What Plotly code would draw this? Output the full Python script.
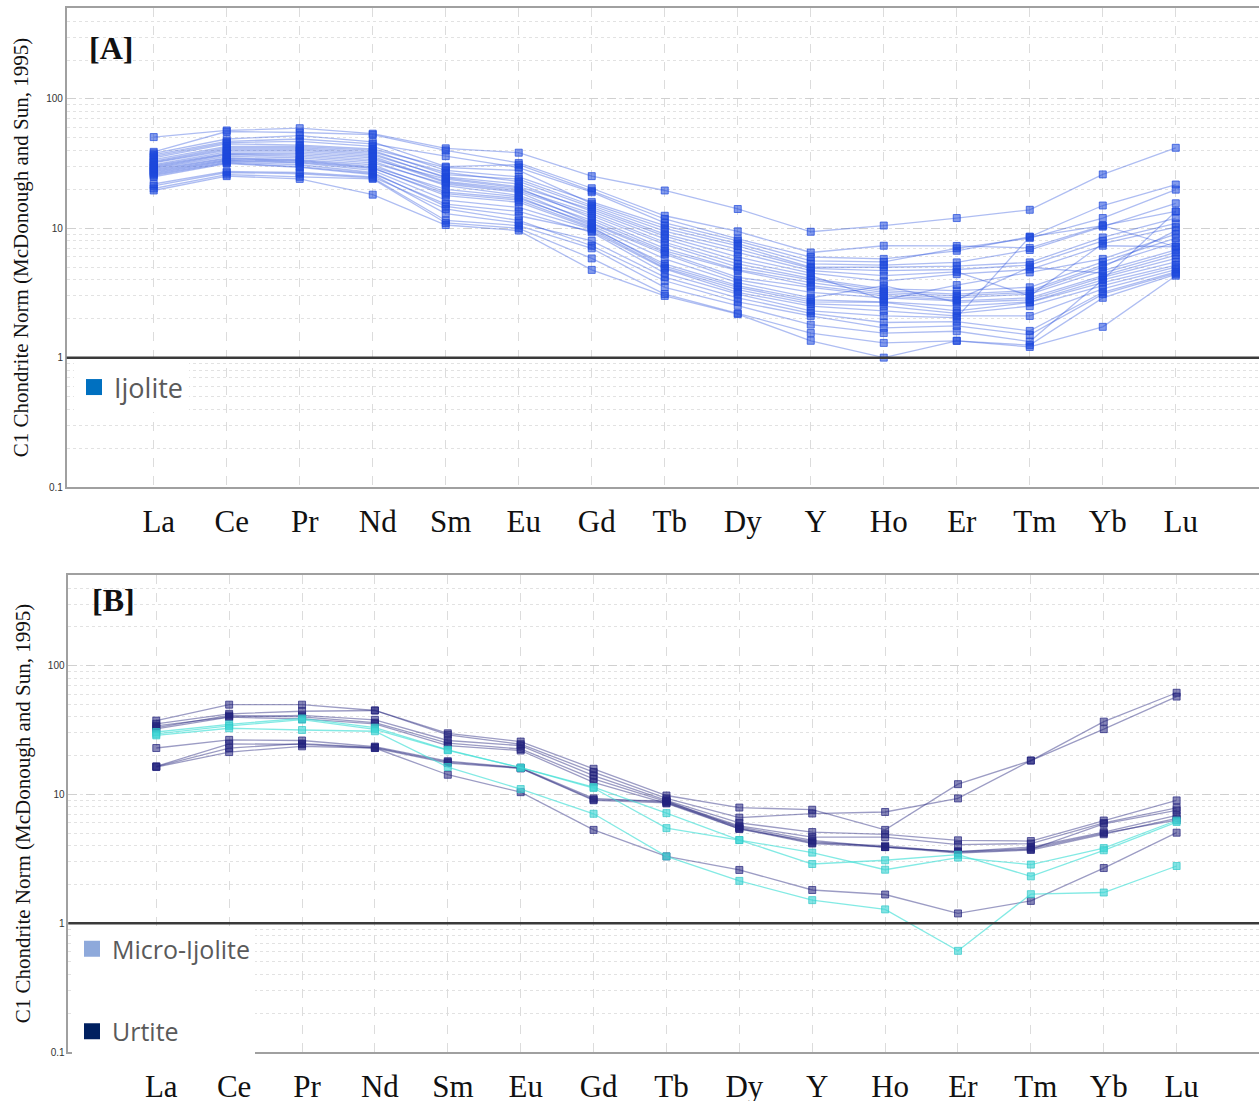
import plotly.graph_objects as go

elements = ["La", "Ce", "Pr", "Nd", "Sm", "Eu", "Gd", "Tb", "Dy", "Y", "Ho", "Er", "Tm", "Yb", "Lu"]

# Panel A - Ijolite samples (chondrite normalised), one row per sample
ijolite = [
    [50.7, 57.1, 59.4, 53.9, 41.5, 38.4, 25.3, 19.6, 14.1, 9.4, 10.5, 12.0, 13.9, 26.1, 41.9],
    [39, 56, 55, 53, 40, 32, 20.4, 12.5, 9.47, 6.5, 7.33, 7.3, 7.05, 10.5, 13.5],
    [38, 49, 52, 46.5, 30, 31, 19.5, 11.8, 8.3, 6.0, 5.8, 6.7, 8.6, 15.0, 21.8],
    [37, 47, 49, 45, 36.1, 29.5, 19, 11, 8.0, 5.6, 5.5, 7.0, 8.4, 12.0, 19.9],
    [36, 46, 47, 43, 28, 25, 16, 10.5, 7.6, 5.3, 5.2, 5.45, 6.8, 10.3, 15.6],
    [35, 45, 44, 41, 29.5, 28, 15.5, 10, 7.3, 5.0, 5.0, 5.1, 5.45, 8.5, 12.0],
    [34, 43, 43, 40, 26, 24, 15, 9.5, 6.9, 4.9, 4.7, 4.8, 5.2, 8.0, 10.9],
    [33, 42, 42, 39, 27, 23, 14.5, 9, 6.5, 4.7, 4.3, 4.6, 3.0, 7.6, 10.2],
    [32.5, 41, 41, 38, 24.5, 21, 14, 8.7, 6.0, 4.5, 3.9, 4.42, 4.8, 7.33, 7.2],
    [32, 40, 40, 37, 25, 22, 13.5, 8.3, 5.6, 4.3, 2.8, 3.64, 4.56, 5.8, 9.0],
    [31, 39, 39, 36, 23, 20, 13, 7.8, 5.3, 4.1, 3.4, 3.3, 3.5, 5.5, 8.4],
    [30.5, 38, 38, 35, 22.5, 19.5, 12.5, 7.5, 5.0, 4.0, 3.3, 3.1, 3.3, 5.2, 7.8],
    [30, 37.5, 37, 34, 24, 20.5, 12, 7, 4.8, 3.8, 3.2, 3.0, 3.2, 5.0, 9.6],
    [29.5, 37, 36, 33, 21.4, 18, 11.5, 6.7, 4.7, 3.6, 3.1, 2.9, 3.1, 4.7, 6.8],
    [29, 36, 35, 32, 22, 19, 11, 6.5, 4.17, 3.5, 3.0, 2.8, 5.0, 4.5, 6.5],
    [28.5, 35, 34, 31, 19, 17, 10.8, 6.3, 4.0, 3.2, 2.9, 2.75, 2.9, 4.3, 6.2],
    [28, 34.5, 33.5, 30, 20, 17.5, 10.5, 5.8, 3.8, 2.9, 3.6, 2.67, 2.8, 4.17, 5.85],
    [27.5, 34, 33, 29.5, 17.9, 15.9, 10, 5.3, 3.6, 2.8, 2.7, 2.5, 2.7, 4.0, 5.5],
    [27, 33.5, 32.5, 29, 18.5, 16.5, 10.2, 5.1, 3.5, 2.7, 2.67, 2.3, 2.67, 3.8, 5.2],
    [26.5, 33, 32, 28, 16.5, 14.5, 9.8, 4.95, 3.35, 2.6, 2.5, 2.2, 2.5, 3.6, 5.0],
    [26, 32.5, 31, 27, 14.8, 12.5, 9.5, 4.85, 3.2, 2.5, 2.3, 2.1, 2.1, 3.4, 4.8],
    [25.5, 32, 30, 26.5, 15.4, 13.5, 9.3, 4.5, 3.1, 2.3, 2.1, 2.04, 8.6, 10.5, 7.2],
    [25, 31.6, 29.6, 26, 13, 11, 8, 4.2, 2.9, 2.2, 1.87, 1.9, 1.61, 3.2, 4.6],
    [22, 27.5, 27, 25, 14.1, 11.5, 7.33, 3.93, 2.7, 2.1, 1.7, 1.76, 1.5, 3.1, 4.5],
    [21.3, 27, 26.4, 24.5, 11.5, 10.5, 7.0, 3.5, 2.52, 1.8, 1.55, 1.6, 1.33, 4.0, 13.5],
    [20.3, 26, 25, 24.1, 11, 10, 5.85, 3.1, 2.2, 1.55, 1.3, 1.35, 1.25, 2.9, 4.4],
    [19.6, 25.3, 24.1, 18.2, 10.6, 9.6, 4.77, 3.0, 2.17, 1.35, 1.0, 1.35, 1.21, 1.73, 4.3],
]

# Panel B - Micro-Ijolite samples
micro_ijolite = [
    [30.5, 35, 38.9, 33, 22.2, 16.1, 11.4, 7.15, 4.42, 3.53, 2.6, 3.23, 2.85, 3.83, 6.27],
    [29.5, 34, 38, 32, 22.0, 16.1, 11.2, 5.47, 4.42, 2.88, 3.08, 3.4, 2.31, 3.68, 6.1],
    [28.7, 32.6, 31.6, 30.9, 16.3, 11.0, 7.07, 3.3, 2.13, 1.51, 1.28, 0.61, 1.68, 1.73, 2.78],
]

# Panel B - Urtite samples
urtite = [
    [37.4, 49.7, 49.7, 44.8, 29.8, 25.7, 15.8, 9.8, 7.9, 7.6, 5.3, 12.0, 18.3, 36.7, 61.5],
    [35.3, 42.2, 44.2, 44.8, 29.0, 24.5, 14.9, 9.3, 6.6, 7.1, 7.3, 9.3, 18.3, 32.1, 57.4],
    [34.0, 40.0, 41.0, 37.9, 26.2, 23.9, 14.0, 9.0, 6.0, 5.1, 4.9, 4.4, 4.34, 6.27, 8.98],
    [33.0, 41.0, 40.0, 36.0, 25.0, 22.5, 13.2, 8.8, 5.7, 4.66, 4.66, 4.07, 4.15, 6.0, 7.87],
    [32.3, 39.8, 38.5, 35.3, 23.9, 21.9, 12.4, 8.5, 5.4, 4.3, 3.9, 3.6, 3.9, 5.1, 6.87],
    [22.9, 26.5, 26.2, 23.5, 18.1, 16.1, 9.3, 8.7, 5.4, 4.15, 3.9, 3.5, 3.7, 4.9, 6.5],
    [16.5, 24.7, 24.4, 22.9, 17.5, 15.9, 9.0, 8.6, 5.6, 4.4, 3.9, 3.6, 3.8, 5.0, 6.3],
    [16.4, 22.9, 24.8, 23.2, 17.8, 16.0, 9.1, 8.9, 5.5, 4.2, 4.0, 3.55, 3.75, 5.9, 7.5],
    [16.3, 21.3, 23.6, 22.9, 14.2, 10.4, 5.3, 3.3, 2.59, 1.81, 1.67, 1.19, 1.49, 2.68, 5.04],
]

panel_labels = ["[A]", "[B]"]
y_title = "C1 Chondrite Norm (McDonough and Sun, 1995)"

W, H = 1259, 1101
fig = go.Figure()

IJ_LINE = "rgba(30,72,220,0.36)"
IJ_MARK = "rgba(30,72,220,0.55)"
UR_LINE = "rgba(35,35,125,0.45)"
UR_MARK = "rgba(35,35,125,0.55)"
MI_LINE = "rgba(64,222,214,0.65)"
MI_MARK = "rgba(64,214,214,0.65)"

for row in ijolite:
    fig.add_trace(go.Scatter(x=elements, y=row, mode="lines+markers", xaxis="x", yaxis="y",
                             line=dict(color=IJ_LINE, width=1.3),
                             marker=dict(symbol="square", size=7, color=IJ_MARK,
                                         line=dict(color="rgba(30,72,220,0.7)", width=1)),
                             showlegend=False, hoverinfo="skip"))
for row in urtite:
    fig.add_trace(go.Scatter(x=elements, y=row, mode="lines+markers", xaxis="x2", yaxis="y2",
                             line=dict(color=UR_LINE, width=1.3),
                             marker=dict(symbol="square", size=7, color=UR_MARK,
                                         line=dict(color="rgba(35,35,125,0.7)", width=1)),
                             showlegend=False, hoverinfo="skip"))
for row in micro_ijolite:
    fig.add_trace(go.Scatter(x=elements, y=row, mode="lines+markers", xaxis="x2", yaxis="y2",
                             line=dict(color=MI_LINE, width=1.3),
                             marker=dict(symbol="square", size=7, color=MI_MARK,
                                         line=dict(color="rgba(50,200,200,0.7)", width=1)),
                             showlegend=False, hoverinfo="skip"))

# legend-only entries
fig.add_trace(go.Scatter(x=[None], y=[None], mode="markers", name="Ijolite", xaxis="x", yaxis="y",
                         marker=dict(symbol="square", size=20, color="#0070C0"), legend="legend"))
fig.add_trace(go.Scatter(x=[None], y=[None], mode="markers", name="Micro-Ijolite", xaxis="x2", yaxis="y2",
                         marker=dict(symbol="square", size=18, color="#8EA9DB"), legend="legend2",
                         legendgroup="mi"))
fig.add_trace(go.Scatter(x=[None], y=[None], mode="markers", name="Urtite", xaxis="x2", yaxis="y2",
                         marker=dict(symbol="square", size=18, color="#002060"), legend="legend2",
                         legendgroup="ur"))

def xax(domain_left, rng):
    return dict(type="category", categoryorder="array", categoryarray=elements,
                domain=[domain_left, 1.0], range=rng,
                showgrid=True, gridcolor="#dcdcdc", griddash="dash", gridwidth=1,
                showline=True, linecolor="#a0a0a0", linewidth=1.5, mirror=True,
                ticks="", tickfont=dict(family="Liberation Serif", size=31, color="#111"),
                ticklabelshift=5, ticklabelstandoff=6, zeroline=False)

def yax(domain, anchor):
    return dict(type="log", domain=domain, range=[-1, 2.703], anchor=anchor,
                tickvals=[0.1, 1, 10, 100], ticktext=["0.1", "1", "10", "100"],
                tickfont=dict(family="Liberation Sans", size=10, color="#333"),
                ticks="", showgrid=True, gridcolor="#d0d0d0", griddash="dash", gridwidth=1,
                minor=dict(dtick="D1", showgrid=True, gridcolor="#e2e2e2", griddash="dot", gridwidth=1, ticklen=0),
                showline=True, linecolor="#a0a0a0", linewidth=1.5, zeroline=False,
                title=dict(text=y_title, font=dict(family="Liberation Serif", size=21, color="#111"), standoff=12))

fig.update_layout(
    width=W, height=H, margin=dict(l=0, r=0, t=0, b=0, autoexpand=False),
    paper_bgcolor="white", plot_bgcolor="white",
    xaxis=dict(xax(66.7 / W, [-1.192, 15.14]), anchor="y"),
    yaxis=yax([(H - 487) / H, (H - 8) / H], "x"),
    xaxis2=dict(xax(68.3 / W, [-1.207, 15.13]), anchor="y2"),
    yaxis2=yax([(H - 1052) / H, (H - 575) / H], "x2"),
    legend=dict(x=74 / W, y=(H - 363) / H, xanchor="left", yanchor="top", bgcolor="white",
                font=dict(family="Open Sans", size=27, color="#5a5a5a"), itemsizing="trace",
                borderwidth=0),
    legend2=dict(x=72 / W, y=(H - 926) / H, xanchor="left", yanchor="top", bgcolor="white",
                 font=dict(family="Open Sans", size=25, color="#5a5a5a"), itemsizing="trace",
                 tracegroupgap=47, borderwidth=0),
    showlegend=True,
)

# reference line at 1
fig.add_shape(type="line", xref="x domain", yref="y", x0=0, x1=1, y0=1, y1=1,
              line=dict(color="#3a3a3a", width=2.5))
fig.add_shape(type="line", xref="x2 domain", yref="y2", x0=0, x1=1, y0=1, y1=1,
              line=dict(color="#3a3a3a", width=2.5))

fig.add_annotation(text="<b>" + panel_labels[0] + "</b>", x=111 / W, y=(H - 48) / H, xref="paper", yref="paper",
                   xanchor="center", yanchor="middle",
                   showarrow=False, font=dict(family="Liberation Serif", size=32, color="#111"))
fig.add_annotation(text="<b>" + panel_labels[1] + "</b>", x=113 / W, y=(H - 600) / H, xref="paper", yref="paper",
                   xanchor="center", yanchor="middle",
                   showarrow=False, font=dict(family="Liberation Serif", size=32, color="#111"))

fig.write_html("out.html")
